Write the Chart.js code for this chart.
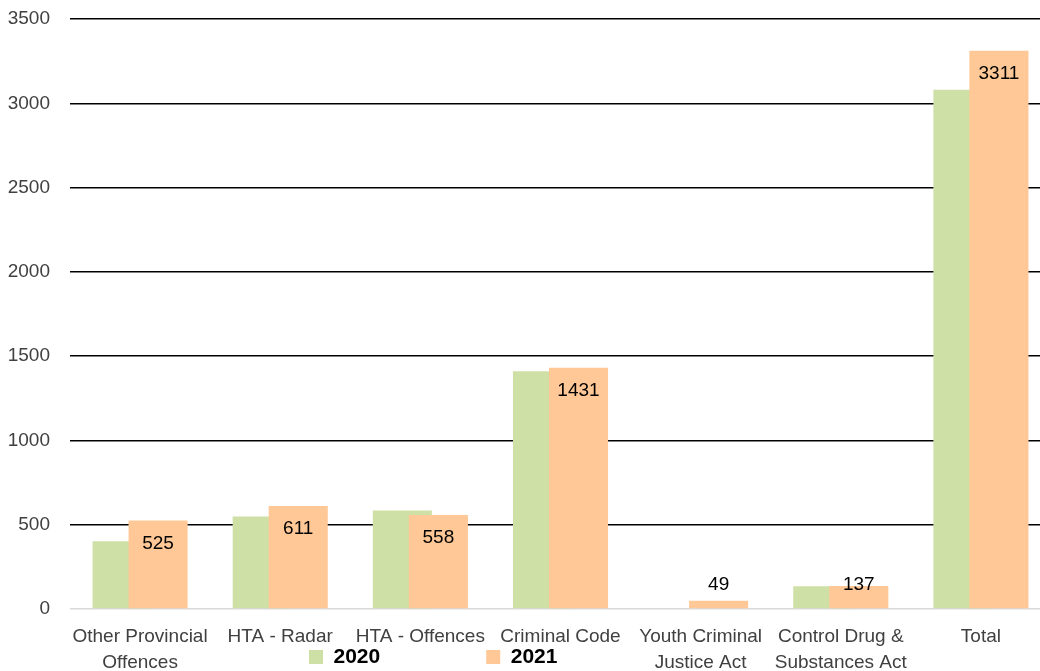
<!DOCTYPE html>
<html>
<head>
<meta charset="utf-8">
<script src="https://cdn.jsdelivr.net/npm/chart.js@4.4.1/dist/chart.umd.min.js"></script>
<style>
  html, body { margin: 0; padding: 0; background: #ffffff; overflow: hidden; }
  #wrap { position: relative; width: 1051px; height: 671px; }
</style>
</head>
<body>
<div id="wrap"><canvas id="chart"></canvas></div>
<script>
// ---- data ----
const categories = [
  ["Other Provincial", "Offences"],
  "HTA - Radar",
  "HTA - Offences",
  "Criminal Code",
  ["Youth Criminal", "Justice Act"],
  ["Control Drug &", "Substances Act"],
  "Total"
];
const seriesNames = ["2020", "2021"];
const values2020 = [402, 548, 585, 1410, 0, 135, 3080];
const values2021 = [525, 611, 558, 1431, 49, 137, 3311];
const yTicks = [0, 500, 1000, 1500, 2000, 2500, 3000, 3500];

// ---- styles ----
const GREEN = '#CFE0A6';
const ORANGE = '#FFC896';
const FONT = "'Liberation Sans', Arial, sans-serif";

// draw green first, orange on top (keeping grouped positions), then value labels
const drawOrderPlugin = {
  id: 'drawOrder',
  beforeDatasetsDraw(chart) {
    chart.getSortedVisibleDatasetMetas().forEach(meta => meta.controller.draw());
    const ctx = chart.ctx;
    const meta = chart.getDatasetMeta(1);
    ctx.save();
    ctx.font = "19px " + FONT;
    ctx.fillStyle = '#000000';
    ctx.textAlign = 'center';
    ctx.textBaseline = 'middle';
    meta.data.forEach((bar, i) => {
      const y = Math.min(bar.y + 23, bar.base - 23);
      ctx.fillText(String(values2021[i]), bar.x, y);
    });
    ctx.restore();
    return false;
  }
};

// place the legend like the reference (under the axis labels) and let x labels overflow
const legendPlacePlugin = {
  id: 'legendPlace',
  afterLayout(chart) {
    const lg = chart.legend;
    if (lg) {
      const pad = lg.options.labels.padding;
      lg.left = 309 - pad;
      lg.top = 646.5 - pad;
    }
    if (chart.scales.x) chart.scales.x.bottom = chart.height;
  }
};

new Chart(document.getElementById('chart'), {
  type: 'bar',
  data: {
    labels: categories,
    datasets: [
      { label: seriesNames[0], data: values2020, backgroundColor: GREEN, borderWidth: 0 },
      { label: seriesNames[1], data: values2021, backgroundColor: ORANGE, borderWidth: 0 }
    ]
  },
  options: {
    responsive: true,
    maintainAspectRatio: false,
    animation: false,
    categoryPercentage: 0.514,
    barPercentage: 1.64,
    layout: { padding: { top: 19, left: 0, right: 0, bottom: 0 } },
    plugins: {
      tooltip: { enabled: false },
      legend: {
        position: 'bottom',
        align: 'start',
        maxHeight: 30,
        labels: {
          boxWidth: 14,
          boxHeight: 14,
          padding: 106,
          color: '#000000',
          font: { family: FONT, size: 21, weight: 'bold' }
        }
      }
    },
    scales: {
      x: {
        grid: { display: false, drawTicks: false },
        border: { display: false },
        ticks: {
          autoSkip: false,
          maxRotation: 0,
          minRotation: 0,
          padding: 15,
          color: '#404040',
          font: { family: FONT, size: 19, lineHeight: 1.35 }
        },
        afterFit(scale) { scale.height = 32; }
      },
      y: {
        min: yTicks[0],
        max: yTicks[yTicks.length - 1],
        border: { display: false },
        grid: {
          drawTicks: true,
          tickLength: 20,
          tickColor: 'rgba(0,0,0,0)',
          lineWidth: 1.5,
          color: (c) => (c.tick && c.tick.value === 0 ? '#D9D9D9' : '#000000')
        },
        afterBuildTicks(scale) { scale.ticks = yTicks.map(v => ({ value: v })); },
        ticks: {
          padding: 0,
          color: '#404040',
          font: { family: FONT, size: 19 },
          callback: (v) => String(v)
        },
        afterFit(scale) { scale.width = 70; }
      }
    }
  },
  plugins: [drawOrderPlugin, legendPlacePlugin]
});
</script>
</body>
</html>
